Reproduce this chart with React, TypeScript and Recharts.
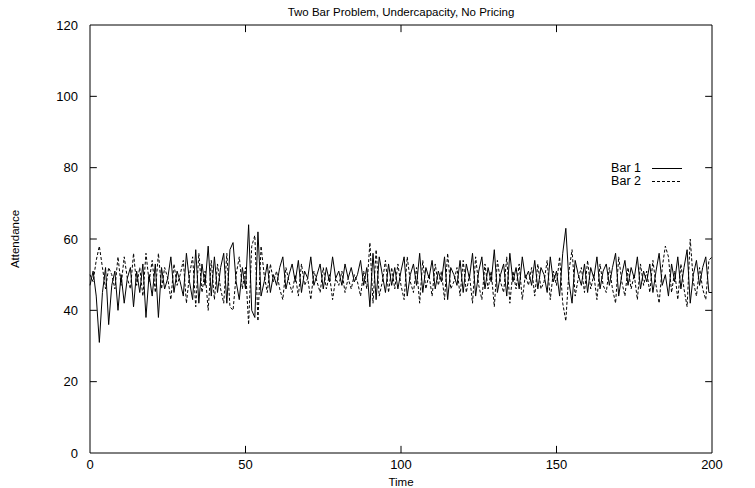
import React from 'react';
import { LineChart, Line, XAxis, YAxis, ReferenceArea, ReferenceLine, Legend } from 'recharts';

const bar1: number[] = [
  47, 51, 44, 31, 45, 52, 36, 47, 51, 40,
  50, 42, 49, 52, 41, 51, 45, 53, 38, 50,
  44, 53, 38, 52, 46, 49, 55, 45, 51, 48,
  44, 56, 48, 43, 57, 42, 53, 47, 58, 44,
  55, 45, 52, 56, 42, 57, 59, 48, 43, 52,
  46, 64, 40, 38, 62, 44, 48, 53, 45, 50,
  47, 52, 55, 46, 50, 53, 48, 54, 45, 51,
  49, 55, 47, 50, 53, 46, 52, 48, 55, 49,
  51, 47, 53, 49, 52, 48, 50, 54, 47, 52,
  41, 56, 43, 55, 50, 45, 53, 47, 52, 46,
  51, 55, 44, 50, 53, 47, 56, 45, 52, 49,
  54, 46, 51, 48, 55, 43, 52, 50, 47, 54,
  45, 53, 49, 56, 44, 51, 55, 46, 52, 48,
  57, 45, 50, 53, 44, 56, 48, 52, 46, 55,
  49, 51, 47, 54, 46, 52, 50, 45, 55, 48,
  51, 44, 56, 63, 48, 42, 54, 50, 47, 53,
  45, 52, 49, 55, 46, 51, 53, 47, 52, 56,
  44, 50, 54, 47, 52, 49, 55, 46, 51, 48,
  53, 45, 51, 56, 47, 50, 44, 53, 48, 55,
  46, 52, 57, 42, 50, 54, 47, 52, 55, 45,
  45,
];

const bar2: number[] = [
  50, 48, 54, 58, 52, 46, 52, 50, 46, 55,
  47, 55, 49, 46, 56, 47, 52, 44, 56, 48,
  54, 45, 56, 46, 52, 49, 43, 53, 47, 50,
  54, 42, 50, 55, 41, 56, 45, 51, 40, 54,
  43, 53, 46, 42, 56, 41, 40, 50, 55, 46,
  52, 36, 58, 61, 37, 58, 50, 45, 53, 48,
  51, 46, 43, 52, 48, 45, 50, 44, 53, 47,
  49, 43, 51, 48, 45, 52, 46, 50, 43, 49,
  47, 51, 45, 49, 46, 50, 48, 44, 51, 46,
  59, 42, 57, 44, 48, 54, 45, 52, 46, 53,
  47, 43, 55, 48, 45, 52, 42, 54, 46, 50,
  44, 53, 47, 51, 43, 56, 46, 48, 52, 44,
  54, 45, 50, 42, 55, 47, 43, 53, 46, 51,
  41, 54, 48, 45, 55, 42, 51, 46, 53, 43,
  50, 47, 52, 44, 53, 46, 48, 54, 43, 51,
  47, 55, 42, 37, 51, 57, 44, 49, 52, 45,
  54, 46, 50, 43, 53, 47, 45, 52, 46, 42,
  55, 48, 44, 52, 46, 50, 43, 53, 47, 51,
  45, 54, 47, 42, 52, 58, 55, 45, 51, 43,
  53, 46, 41, 60, 48, 44, 52, 46, 43, 54,
  55,
];

const xTicks = [0, 50, 100, 150, 200];
const yTicks = [0, 20, 40, 60, 80, 100, 120];
const seriesNames = ['Bar 1', 'Bar 2'];
const title = 'Two Bar Problem, Undercapacity, No Pricing';

const data = bar1.map((v, i) => ({ t: i, bar1: v, bar2: bar2[i] }));

const FONT = '"Liberation Sans", Arial, Helvetica, sans-serif';

const LegendContent = () => (
  <div style={{ fontFamily: FONT, fontSize: 12.5, color: '#000' }}>
    {seriesNames.map((n, i) => (
      <div key={n} style={{ display: 'flex', alignItems: 'center', height: 13, lineHeight: '13px' }}>
        <span style={{ width: 36, textAlign: 'right' }}>{n}</span>
        <svg width={42} height={13} style={{ marginLeft: 11 }}>
          <line x1={0} x2={30} y1={6.5} y2={6.5} stroke="#000" strokeWidth={1}
            strokeDasharray={i === 1 ? '3 2' : undefined} />
        </svg>
      </div>
    ))}
  </div>
);

export default function App() {
  return (
    <div style={{ position: 'absolute', left: 0, top: 0, width: 755, height: 488, background: '#fff' }}>
      <div style={{ position: 'absolute', left: 90, top: 5, width: 622, textAlign: 'center', fontFamily: FONT, fontSize: 11.5, lineHeight: '14px', color: '#000' }}>
        {title}
      </div>
      <LineChart width={755} height={488} data={data} margin={{ top: 25, right: 43, bottom: 0, left: 0 }}>
        <XAxis dataKey="t" type="number" domain={[0, 200]} ticks={xTicks} tickLine={false} axisLine={false}
          tickSize={0} tickMargin={7} height={35} interval={0}
          tick={{ fill: '#000', fontSize: 13, fontFamily: FONT }}
          label={{ value: 'Time', position: 'insideBottom', offset: 2, fill: '#000', fontSize: 11.5, fontFamily: FONT }} />
        <YAxis type="number" domain={[0, 120]} ticks={yTicks} tickLine={false} axisLine={false}
          tickSize={0} tickMargin={12} width={90} interval={0}
          tick={{ fill: '#000', fontSize: 13, fontFamily: FONT }}
          label={{ value: 'Attendance', angle: -90, position: 'insideLeft', offset: 15, fill: '#000', fontSize: 11.5, fontFamily: FONT, style: { textAnchor: 'middle' } }} />
        <ReferenceArea x1={0} x2={200} y1={0} y2={120} fill="none" stroke="#000" strokeWidth={1} />
        {yTicks.slice(1, -1).map((y) => (
          <ReferenceLine key={'yl' + y} segment={[{ x: 0, y }, { x: 2.2, y }]} stroke="#000" />
        ))}
        {yTicks.slice(1, -1).map((y) => (
          <ReferenceLine key={'yr' + y} segment={[{ x: 197.8, y }, { x: 200, y }]} stroke="#000" />
        ))}
        {xTicks.slice(1, -1).map((x) => (
          <ReferenceLine key={'xb' + x} segment={[{ x, y: 0 }, { x, y: 2 }]} stroke="#000" />
        ))}
        {xTicks.slice(1, -1).map((x) => (
          <ReferenceLine key={'xt' + x} segment={[{ x, y: 118 }, { x, y: 120 }]} stroke="#000" />
        ))}
        <Legend content={<LegendContent />} layout="vertical" verticalAlign="middle" align="center"
          wrapperStyle={{ position: 'absolute', left: 605, top: 162, width: 100 }} />
        <Line type="linear" dataKey="bar1" name="Bar 1" stroke="#000" strokeWidth={1} dot={false} isAnimationActive={false} />
        <Line type="linear" dataKey="bar2" name="Bar 2" stroke="#000" strokeWidth={1} strokeDasharray="3 2" dot={false} isAnimationActive={false} />
      </LineChart>
    </div>
  );
}
